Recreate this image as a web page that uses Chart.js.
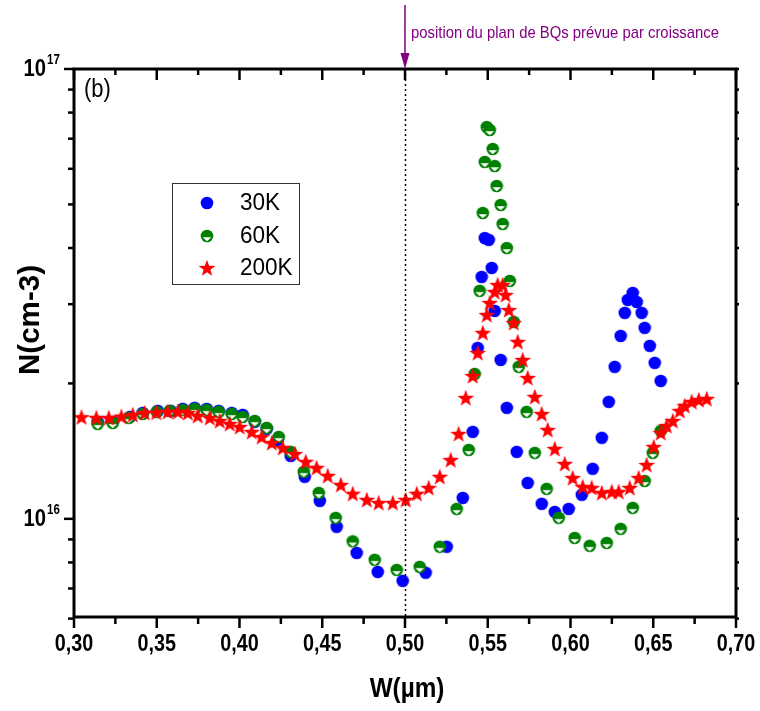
<!DOCTYPE html>
<html>
<head>
<meta charset="utf-8">
<script src="https://cdn.jsdelivr.net/npm/chart.js@4.4.1/dist/chart.umd.min.js"></script>
<style>
  html, body { margin: 0; padding: 0; background: #fff; }
</style>
</head>
<body>
<canvas id="myChart" width="760" height="711"></canvas>
<script>
'use strict';

let w30 = [0.3143, 0.3234, 0.3337, 0.3415, 0.3506, 0.3584, 0.3657, 0.3729, 0.3802, 0.3874,
  0.3953, 0.4019, 0.4092, 0.4164, 0.4231, 0.4309, 0.4394, 0.4485, 0.4587, 0.4708,
  0.4835, 0.4986, 0.5125, 0.5252, 0.5349, 0.5409, 0.5439, 0.5463, 0.5482, 0.5506,
  0.5524, 0.5542, 0.5578, 0.5615, 0.5675, 0.5741, 0.5826, 0.5905, 0.5989, 0.6068,
  0.6134, 0.6189, 0.6231, 0.6267, 0.6303, 0.6328, 0.6346, 0.6376, 0.6400, 0.6430,
  0.6448, 0.6479, 0.6509, 0.6545];
let n30 = [1.643e16, 1.643e16, 1.685e16, 1.720e16, 1.738e16, 1.738e16, 1.756e16, 1.765e16, 1.756e16, 1.738e16,
  1.720e16, 1.703e16, 1.643e16, 1.585e16, 1.498e16, 1.380e16, 1.240e16, 1.096e16, 0.960e16, 0.840e16,
  0.762e16, 0.728e16, 0.759e16, 0.867e16, 1.113e16, 1.561e16, 2.399e16, 3.45e16, 4.21e16, 4.17e16,
  3.613e16, 2.899e16, 2.256e16, 1.765e16, 1.409e16, 1.202e16, 1.080e16, 1.036e16, 1.052e16, 1.131e16,
  1.292e16, 1.514e16, 1.820e16, 2.177e16, 2.551e16, 2.870e16, 3.067e16, 3.179e16, 3.035e16, 2.870e16,
  2.658e16, 2.424e16, 2.222e16, 2.026e16];

let w60 = [0.3143, 0.3234, 0.3331, 0.3415, 0.3500, 0.3578, 0.3657, 0.3729, 0.3802, 0.3874,
  0.3953, 0.4019, 0.4092, 0.4164, 0.4237, 0.4309, 0.4388, 0.4479, 0.4581, 0.4684,
  0.4817, 0.4950, 0.5089, 0.5210, 0.5312, 0.5385, 0.5421, 0.5451, 0.5470, 0.5482,
  0.5494, 0.5512, 0.5530, 0.5542, 0.5554, 0.5578, 0.5590, 0.5615, 0.5633, 0.5657,
  0.5687, 0.5735, 0.5784, 0.5856, 0.5929, 0.6025, 0.6116, 0.6219, 0.6303, 0.6376,
  0.6448, 0.6497, 0.6545];
let n60 = [1.626e16, 1.634e16, 1.677e16, 1.711e16, 1.729e16, 1.738e16, 1.747e16, 1.756e16, 1.747e16, 1.729e16,
  1.711e16, 1.685e16, 1.651e16, 1.593e16, 1.521e16, 1.409e16, 1.272e16, 1.142e16, 1.005e16, 0.891e16,
  0.811e16, 0.770e16, 0.782e16, 0.867e16, 1.052e16, 1.423e16, 2.100e16, 3.212e16, 4.786e16, 6.215e16,
  7.43e16, 7.32e16, 6.64e16, 6.086e16, 5.495e16, 4.986e16, 4.524e16, 4.0e16, 3.380e16, 2.741e16,
  2.177e16, 1.729e16, 1.402e16, 1.166e16, 1.005e16, 0.907e16, 0.871e16, 0.884e16, 0.950e16, 1.058e16,
  1.214e16, 1.402e16, 1.569e16];

let w200 = [0.3045, 0.3135, 0.3210, 0.3286, 0.3355, 0.3427, 0.3498, 0.3566, 0.3627, 0.3687,
  0.3747, 0.3820, 0.3880, 0.3941, 0.4001, 0.4074, 0.4134, 0.4195, 0.4261, 0.4334,
  0.4400, 0.4466, 0.4533, 0.4612, 0.4684, 0.4769, 0.4841, 0.4926, 0.5004, 0.5071,
  0.5143, 0.5210, 0.5276, 0.5324, 0.5367, 0.5409, 0.5439, 0.5470, 0.5494, 0.5512,
  0.5542, 0.5560, 0.5590, 0.5608, 0.5627, 0.5657, 0.5681, 0.5711, 0.5741, 0.5784,
  0.5826, 0.5862, 0.5905, 0.5965, 0.6013, 0.6074, 0.6128, 0.6189, 0.6249, 0.6291,
  0.6358, 0.6412, 0.6460, 0.6503, 0.6545, 0.6581, 0.6618, 0.6660, 0.6690, 0.6732,
  0.6775, 0.6823];
let n200 = [1.683e16, 1.677e16, 1.677e16, 1.688e16, 1.703e16, 1.720e16, 1.723e16, 1.729e16, 1.729e16, 1.720e16,
  1.694e16, 1.677e16, 1.651e16, 1.626e16, 1.601e16, 1.561e16, 1.521e16, 1.475e16, 1.438e16, 1.394e16,
  1.339e16, 1.298e16, 1.246e16, 1.190e16, 1.137e16, 1.102e16, 1.085e16, 1.085e16, 1.102e16, 1.137e16,
  1.172e16, 1.240e16, 1.352e16, 1.545e16, 1.857e16, 2.078e16, 2.338e16, 2.591e16, 2.840e16, 3.020e16,
  3.195e16, 3.311e16, 3.311e16, 3.146e16, 2.913e16, 2.727e16, 2.474e16, 2.256e16, 2.057e16, 1.867e16,
  1.711e16, 1.577e16, 1.431e16, 1.325e16, 1.233e16, 1.178e16, 1.172e16, 1.142e16, 1.148e16, 1.148e16,
  1.172e16, 1.233e16, 1.318e16, 1.445e16, 1.553e16, 1.609e16, 1.651e16, 1.738e16, 1.783e16, 1.820e16,
  1.838e16, 1.848e16];

let seriesNames = ['30K', '60K', '200K'];

// axes
let xMajorTicks = [0.30, 0.35, 0.40, 0.45, 0.50, 0.55, 0.60, 0.65, 0.70];
let xMinorTicks = [0.325, 0.375, 0.425, 0.475, 0.525, 0.575, 0.625, 0.675];
let yMajorTicks = [1e16, 1e17];
let yMajorExp = ['16', '17'];
let yMinorTicks = [6e15, 7e15, 8e15, 9e15, 2e16, 3e16, 4e16, 5e16, 6e16, 7e16, 8e16, 9e16];
let qdPlaneW = 0.50;
let qdPlaneText = 'position du plan de BQs prévue par croissance';

const FONT = '\'Liberation Sans\', Arial, sans-serif';
const ctx = document.getElementById('myChart');

// marker images
function circleMarker(color){
  let c = document.createElement('canvas');
  c.width = 14; c.height = 14;
  let g = c.getContext('2d');
  g.fillStyle = color;
  g.beginPath();
  g.arc(7, 7, 6.3, 0, Math.PI * 2);
  g.fill();
  return c;
}

function halfMarker(color){
  let c = document.createElement('canvas');
  c.width = 14; c.height = 14;
  let g = c.getContext('2d');
  g.fillStyle = color;
  g.beginPath();
  g.arc(7, 7, 6.3, 0, Math.PI * 2);
  g.fill();
  g.fillStyle = '#fff';
  g.beginPath();
  g.moveTo(2.6, 8.2);
  g.lineTo(11.4, 8.2);
  g.lineTo(7, 12.3);
  g.closePath();
  g.fill();
  return c;
}

function starMarker(color){
  let c = document.createElement('canvas');
  c.width = 18; c.height = 18;
  let g = c.getContext('2d');
  g.fillStyle = color;
  g.beginPath();
  for (let i = 0; i < 10; i++){
    let r = i % 2 === 0 ? 8.8 : 3.6;
    let a = -Math.PI / 2 + i * Math.PI / 5;
    let px = 9 + r * Math.cos(a);
    let py = 9.6 + r * Math.sin(a);
    if (i === 0) g.moveTo(px, py); else g.lineTo(px, py);
  }
  g.closePath();
  g.fill();
  return c;
}

let blueDot = circleMarker('#0000ff');
let greenHalf = halfMarker('#008000');
let redStar = starMarker('#ff0000');
let markers = [blueDot, greenHalf, redStar];

function toPoints(xs, ys){
  return xs.map((v, i) => ({x: v, y: ys[i]}));
}

function text(g, s, x, y, font, align, sx, color){
  g.save();
  g.font = font;
  g.fillStyle = color || '#000';
  g.textAlign = align;
  g.textBaseline = 'middle';
  g.translate(x, y);
  g.scale(sx, 1);
  g.fillText(s, 0, 0);
  g.restore();
}

function seg(g, x1, y1, x2, y2){
  g.beginPath();
  g.moveTo(x1, y1);
  g.lineTo(x2, y2);
  g.stroke();
}

// axes, labels, legend and the annotation
const framePlugin = {
  id: 'frame',
  afterDatasetsDraw(chart){
    let g = chart.ctx;
    let a = chart.chartArea;
    let xs = chart.scales.x;
    let ys = chart.scales.y;
    g.save();
    g.strokeStyle = '#000';
    g.lineCap = 'butt';

    // dotted line at the expected plane
    let xq = Math.round(xs.getPixelForValue(qdPlaneW)) + 0.5;
    g.lineWidth = 1.5;
    g.setLineDash([2, 3]);
    seg(g, xq, a.top, xq, a.bottom);
    g.setLineDash([]);

    // box
    g.lineWidth = 3;
    g.strokeRect(a.left, a.top, a.right - a.left, a.bottom - a.top);

    // x ticks
    g.lineWidth = 2.5;
    xMajorTicks.forEach(v => {
      let px = xs.getPixelForValue(v);
      seg(g, px, a.bottom, px, a.bottom + 11);
      seg(g, px, a.top, px, a.top + 11);
      text(g, v.toFixed(2).replace('.', ','), px, 645, 'bold 23px ' + FONT, 'center', 0.86);
    });
    xMinorTicks.forEach(v => {
      let px = xs.getPixelForValue(v);
      seg(g, px, a.bottom, px, a.bottom + 7);
      seg(g, px, a.top, px, a.top + 6);
    });

    // y ticks
    yMajorTicks.forEach((v, i) => {
      let py = ys.getPixelForValue(v);
      seg(g, a.left, py, a.left - 10, py);
      seg(g, a.right, py, a.right + 3, py);
      text(g, '10', 46, py + 1, 'bold 23px ' + FONT, 'right', 0.88);
      text(g, yMajorExp[i], 47, py - 9, 'bold 14px ' + FONT, 'left', 0.82);
    });
    yMinorTicks.forEach(v => {
      let py = ys.getPixelForValue(v);
      seg(g, a.left, py, a.left - 6, py);
      seg(g, a.right, py, a.right + 3, py);
    });

    // axis titles
    text(g, 'W(µm)', (a.left + a.right) / 2 + 2, 690, 'bold 27px ' + FONT, 'center', 0.9);
    g.save();
    g.translate(31, 320);
    g.rotate(-Math.PI / 2);
    text(g, 'N(cm-3)', 0, 0, 'bold 29px ' + FONT, 'center', 1.02);
    g.restore();

    // panel letter
    text(g, '(b)', 84, 90, '25px ' + FONT, 'left', 0.88);

    // legend
    g.lineWidth = 1;
    g.strokeStyle = '#333';
    g.strokeRect(172.5, 183.5, 127, 101);
    let rows = [203, 236, 268];
    seriesNames.forEach((name, i) => {
      let m = markers[i];
      g.drawImage(m, 207 - m.width / 2, rows[i] - m.height / 2);
      text(g, name, 240, rows[i] + 1, '23px ' + FONT, 'left', 0.98);
    });

    // arrow + note
    let ax = xs.getPixelForValue(qdPlaneW);
    g.strokeStyle = '#800080';
    g.fillStyle = '#800080';
    g.lineWidth = 1.5;
    seg(g, ax, 5, ax, a.top - 12);
    g.beginPath();
    g.moveTo(ax - 4.5, a.top - 16);
    g.lineTo(ax + 4.5, a.top - 16);
    g.lineTo(ax, a.top);
    g.closePath();
    g.fill();
    g.font = '17px ' + FONT;
    let tw = g.measureText(qdPlaneText).width;
    text(g, qdPlaneText, ax + 6, 33, '17px ' + FONT, 'left', 308 / tw, '#800080');

    g.restore();
  }
};

let chartObj = {
  type: 'scatter',
  data: {
    datasets: [
      {label: seriesNames[0], data: toPoints(w30, n30), pointStyle: blueDot, pointRadius: 6, order: 3},
      {label: seriesNames[1], data: toPoints(w60, n60), pointStyle: greenHalf, pointRadius: 6, order: 2},
      {label: seriesNames[2], data: toPoints(w200, n200), pointStyle: redStar, pointRadius: 7, order: 1}
    ]
  },
  options: {
    responsive: false,
    animation: false,
    devicePixelRatio: 1,
    layout: {
      padding: {left: 74, right: 24, top: 69, bottom: 94}
    },
    plugins: {
      legend: {display: false},
      tooltip: {enabled: false}
    },
    scales: {
      x: {
        type: 'linear',
        min: 0.30,
        max: 0.70,
        display: false
      },
      y: {
        type: 'logarithmic',
        min: 6.05e15,
        max: 1e17,
        display: false
      }
    }
  },
  plugins: [framePlugin]
};

new Chart(ctx, chartObj);
</script>
</body>
</html>
